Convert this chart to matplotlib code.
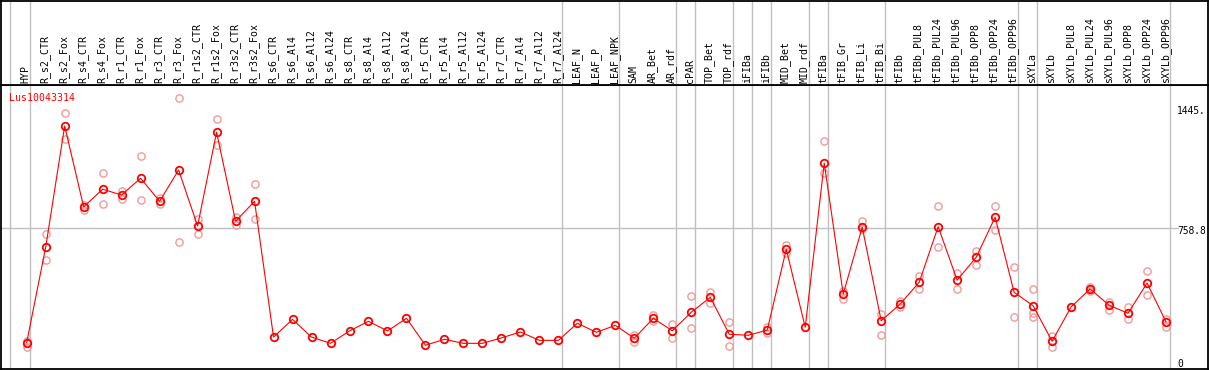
"""
Expression profile of Lus10043314 across tissues / treatments.
Mean per sample (red line) with individual replicates (light circles).
"""
import numpy as np
import matplotlib
matplotlib.use('Agg')
import matplotlib.pyplot as plt

plt.rcParams.update({
    "font.family": "DejaVu Sans Mono",
    "font.size": 7.1,
})

GENE = 'Lus10043314'

samples = [
    'HYP',
    'R_s2_CTR', 'R_s2_Fox', 'R_s4_CTR', 'R_s4_Fox', 'R_r1_CTR', 'R_r1_Fox',
    'R_r3_CTR', 'R_r3_Fox', 'R_r1s2_CTR', 'R_r1s2_Fox', 'R_r3s2_CTR', 'R_r3s2_Fox',
    'R_s6_CTR', 'R_s6_Al4', 'R_s6_Al12', 'R_s6_Al24',
    'R_s8_CTR', 'R_s8_Al4', 'R_s8_Al12', 'R_s8_Al24',
    'R_r5_CTR', 'R_r5_Al4', 'R_r5_Al12', 'R_r5_Al24',
    'R_r7_CTR', 'R_r7_Al4', 'R_r7_Al12', 'R_r7_Al24',
    'LEAF_N', 'LEAF_P', 'LEAF_NPK',
    'SAM', 'AR_Bet', 'AR_rdf', 'cPAR', 'TOP_Bet', 'TOP_rdf',
    'iFIBa', 'iFIBb', 'MID_Bet', 'MID_rdf',
    'tFIBa', 'tFIB_Gr', 'tFIB_Li', 'tFIB_Bi',
    'tFIBb', 'tFIBb_PUL8', 'tFIBb_PUL24', 'tFIBb_PUL96',
    'tFIBb_OPP8', 'tFIBb_OPP24', 'tFIBb_OPP96',
    'sXYLa', 'sXYLb', 'sXYLb_PUL8', 'sXYLb_PUL24', 'sXYLb_PUL96',
    'sXYLb_OPP8', 'sXYLb_OPP24', 'sXYLb_OPP96',
]

# number of consecutive samples in each group (gray separators)
group_sizes = [1, 28, 3, 3, 1, 2, 1, 1, 2, 1, 3, 7, 1, 7]

means = [105, 650, 1344, 881, 982, 949, 1045, 913, 1092, 772, 1308, 799, 913,
         137, 238, 137, 101, 172, 227, 172, 244, 90, 124, 101, 101,
         132, 166, 118, 118, 216, 164, 204,
         130, 244, 173, 279, 364, 153, 147, 177, 639, 193,
         1131, 383, 765, 230, 326, 450, 768, 462, 593, 822, 393,
         316, 113, 309, 412, 319, 273, 446, 223]

replicates = [
    (116, 82),
    (726, 576), (1416, 1268), (892, 863), (1073, 896), (972, 926), (1171, 919),
    (932, 898), (1502, 679), (810, 725), (1382, 1233), (822, 776), (1010, 810),
    (), (), (), (), (), (), (), (), (), (), (), (), (), (), (), (),
    (), (), (),
    (149, 107), (261, 230), (212, 130), (370, 187), (393, 333), (221, 88),
    (), (196, 162), (662, 619), (),
    (1258, 1073), (402, 355), (801, 755), (267, 147),
    (345, 307), (486, 413), (885, 654), (502, 413), (627, 551), (885, 751), (536, 253),
    (413, 273, 250), (143, 82), (), (421, 402), (339, 292), (307, 238), (513, 376), (242, 196),
]

y_ticks = [1445, 758.8, 0]
y_tick_labels = ['1445.', '758.8', '0']

W, H = 1209, 370
RED = '#ff0000'
REP = '#f09a9a'
GRID = '#c0c0c0'


def px_box(x0, y0, x1, y1):
    return [x0 / W, 1 - y1 / H, (x1 - x0) / W, (y1 - y0) / H]


def main():
    fig = plt.figure(figsize=(W / 100, H / 100), dpi=100)
    ax = fig.add_axes(px_box(1, 85, 1208, 369))
    axl = fig.add_axes(px_box(1, 0.5, 1208, 85), sharex=ax)

    x = np.arange(len(samples))
    ax.set_xlim(-1.353, 62.21)
    ax.set_ylim(-45.7, 1578)
    axl.set_ylim(0, 1)

    # group separators
    bounds = np.cumsum(group_sizes) - 1 + 0.2
    for b in np.concatenate([[-0.88], bounds]):
        for a in (ax, axl):
            a.axvline(b, color=GRID, lw=1.0, zorder=0)
    ax.axhline(758.8, xmin=0, xmax=0.975, color=GRID, lw=1.0, zorder=0)

    # replicates
    rx = [i for i, r in enumerate(replicates) for _ in r]
    ry = [v for r in replicates for v in r]
    ax.plot(rx, ry, 'o', ls='none', mfc='none', mec=REP, ms=5.2, mew=1.0, zorder=2)

    # means
    ax.plot(x, means, '-', color=RED, lw=0.8, zorder=3)
    ax.plot(x, means, 'o', ls='none', mfc='none', mec=RED, ms=5.4, mew=1.3, zorder=4)

    # sample labels
    for i, s in enumerate(samples):
        axl.text(i - 0.05, 0.025, s, rotation=90, ha='center', va='bottom',
                 color='black', fontsize=7.1)

    # y values at the right
    for v, t in zip(y_ticks, y_tick_labels):
        ax.annotate(t, xy=(60.58, v), xytext=(0, -2), textcoords='offset points',
                    ha='left', va='center', fontsize=6.9, color='black')

    ax.text(0.0065, 0.955, GENE, transform=ax.transAxes, color=RED,
            ha='left', va='center', fontsize=7.1)

    for a in (ax, axl):
        a.set_xticks([])
        a.set_yticks([])
        for sp in a.spines.values():
            sp.set_linewidth(1.3)
            sp.set_color('black')

    fig.savefig('out.png', dpi=100)
    plt.close(fig)


if __name__ == '__main__':
    main()
